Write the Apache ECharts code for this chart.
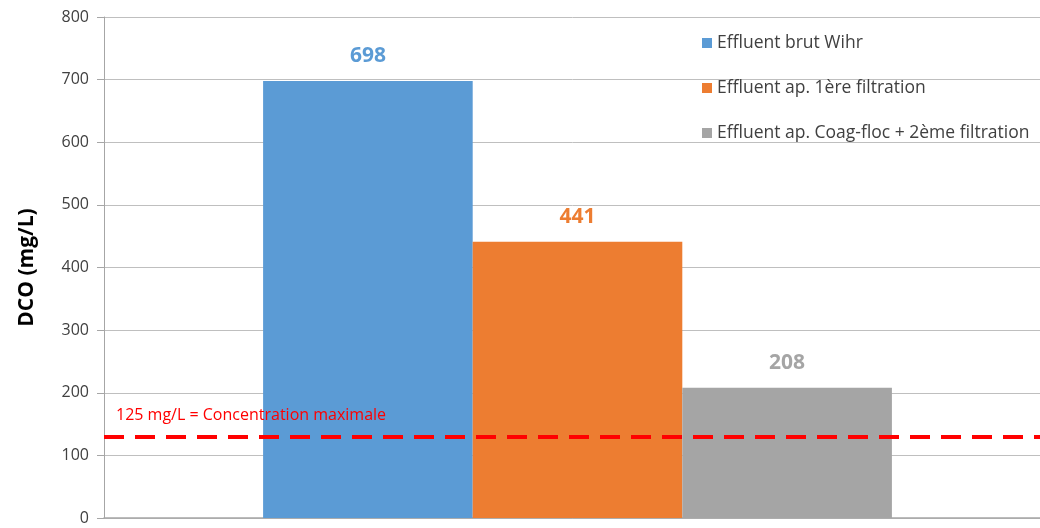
<!DOCTYPE html>
<html><head><meta charset="utf-8">
<script src="https://cdn.jsdelivr.net/npm/echarts@6/dist/echarts.min.js"></script>
<style>html,body{margin:0;padding:0;background:#fff}#c{width:1040px;height:528px}</style>
</head><body><div id="c"></div>
<script>
const categories = [''];
const seriesNames = ['Effluent brut Wihr', 'Effluent ap. 1ère filtration', 'Effluent ap. Coag-floc + 2ème filtration'];
const seriesValues = [[698], [441], [208]];
const seriesColors = ['#5B9BD5', '#ED7D31', '#A5A5A5'];
const yTicks = { min: 0, max: 800, interval: 100 };
const limitValue = 129;
const limitLabel = '125 mg/L = Concentration maximale';
const axisName = 'DCO (mg/L)';

const font = '"Open Sans", "Noto Sans", sans-serif';
const chart = echarts.init(document.getElementById('c'));
const series = seriesNames.map((n, i) => ({
  name: n, type: 'bar', data: seriesValues[i],
  barGap: '0%', barCategoryGap: '33.6%',
  itemStyle: { color: seriesColors[i] },
  label: { show: true, position: 'top', distance: 14, color: seriesColors[i], fontSize: 21, fontWeight: 'bold', fontFamily: font },
  z: 2
}));
series[0].markLine = {
  symbol: 'none', silent: true, z: 5,
  data: [{ yAxis: limitValue }],
  lineStyle: { color: '#FF0000', type: [20, 11], width: 4 },
  label: { show: true, position: 'insideStartTop', formatter: limitLabel, color: '#FF0000', fontSize: 16, fontFamily: font, distance: [12, 14] }
};
chart.setOption({
  animation: false,
  textStyle: { fontFamily: font },
  grid: { left: 104, width: 947, top: 17, bottom: 10, containLabel: false, outerBoundsMode: 'none' },
  legend: {
    orient: 'vertical', left: 697, top: 29, itemWidth: 10, itemHeight: 10, itemGap: 27,
    icon: 'rect', textStyle: { fontSize: 17.5, color: '#404040', fontFamily: font }, itemStyle: { borderWidth: 0 }
  },
  xAxis: {
    type: 'category', data: categories,
    axisLine: { lineStyle: { color: '#A6A6A6', width: 1.5 } }, axisTick: { show: false }, axisLabel: { show: false }
  },
  yAxis: {
    type: 'value', min: yTicks.min, max: yTicks.max, interval: yTicks.interval,
    name: axisName, nameLocation: 'middle', nameGap: 66,
    nameTextStyle: { fontSize: 21, fontWeight: 'bold', color: '#000', fontFamily: font },
    axisLine: { show: true, lineStyle: { color: '#A6A6A6' } },
    axisTick: { show: true, length: 7, lineStyle: { color: '#A6A6A6' } },
    axisLabel: { fontSize: 16, color: '#404040', margin: 15 },
    splitLine: { lineStyle: { color: '#BFBFBF', width: 1 } }
  },
  series
});
</script></body></html>
